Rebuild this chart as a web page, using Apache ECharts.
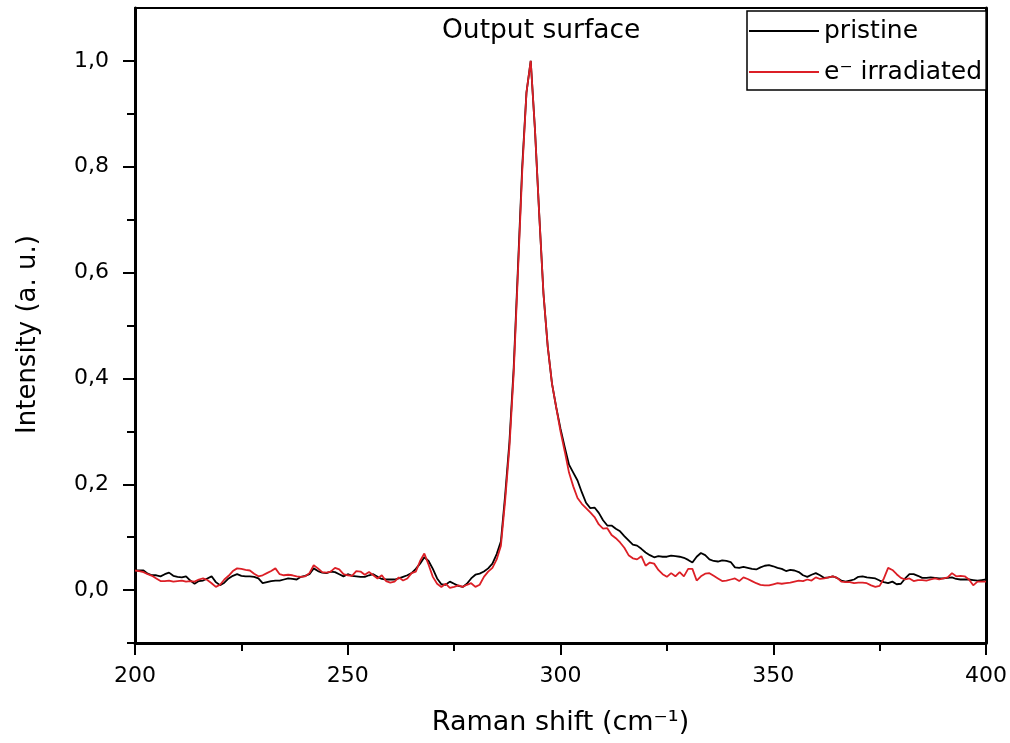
<!DOCTYPE html>
<html>
<head>
<meta charset="utf-8">
<script src="https://cdn.jsdelivr.net/npm/echarts@6/dist/echarts.min.js"></script>
<style>
html,body{margin:0;padding:0;background:#fff;}
#chart{width:1010px;height:743px;}
</style>
</head>
<body>
<div id="chart"></div>
<script>
// Raman shift sampling (cm^-1), 1 cm^-1 steps from 200 to 400
const ramanShift = [];
for (let x = 200; x <= 400; x++) ramanShift.push(x);

// pristine (black)
const pristine = [
0.037,0.037,0.037,0.031,0.028,0.028,0.026,0.030,0.033,0.027,
0.025,0.024,0.026,0.018,0.012,0.017,0.018,0.022,0.026,0.015,
0.009,0.014,0.022,0.027,0.030,0.027,0.026,0.026,0.025,0.022,
0.013,0.015,0.017,0.018,0.018,0.020,0.022,0.021,0.020,0.025,
0.027,0.030,0.041,0.036,0.033,0.032,0.035,0.034,0.030,0.026,
0.030,0.027,0.026,0.025,0.025,0.028,0.030,0.025,0.021,0.020,
0.020,0.020,0.022,0.025,0.028,0.032,0.040,0.050,0.062,0.055,
0.040,0.022,0.011,0.010,0.016,0.012,0.008,0.006,0.012,0.022,
0.029,0.031,0.035,0.041,0.050,0.068,0.092,0.18,0.28,0.42,
0.61,0.80,0.94,1.0,0.87,0.71,0.56,0.46,0.39,0.345,
0.305,0.270,0.237,0.222,0.207,0.185,0.165,0.155,0.156,0.146,
0.132,0.122,0.122,0.116,0.111,0.102,0.094,0.086,0.084,0.078,
0.071,0.066,0.062,0.064,0.063,0.063,0.065,0.064,0.063,0.061,
0.057,0.052,0.063,0.070,0.066,0.058,0.055,0.054,0.056,0.055,
0.053,0.043,0.042,0.044,0.042,0.040,0.039,0.043,0.046,0.047,
0.045,0.042,0.040,0.036,0.038,0.037,0.034,0.028,0.025,0.029,
0.032,0.028,0.023,0.024,0.026,0.023,0.018,0.016,0.018,0.020,
0.025,0.026,0.024,0.023,0.022,0.018,0.015,0.013,0.016,0.011,
0.012,0.022,0.030,0.030,0.027,0.023,0.023,0.024,0.023,0.022,
0.022,0.023,0.024,0.021,0.020,0.020,0.020,0.019,0.018,0.019,
0.020
];

// e- irradiated (red)
const irradiated = [
0.037,0.036,0.034,0.030,0.027,0.022,0.017,0.017,0.018,0.016,
0.017,0.018,0.016,0.017,0.016,0.020,0.022,0.019,0.013,0.006,
0.010,0.020,0.027,0.036,0.041,0.040,0.038,0.037,0.031,0.026,
0.028,0.032,0.036,0.041,0.030,0.028,0.029,0.028,0.026,0.025,
0.026,0.032,0.047,0.041,0.034,0.033,0.035,0.042,0.039,0.030,
0.028,0.027,0.036,0.035,0.029,0.034,0.028,0.022,0.028,0.017,
0.014,0.016,0.024,0.018,0.022,0.032,0.035,0.055,0.069,0.048,
0.025,0.012,0.006,0.012,0.004,0.006,0.009,0.006,0.010,0.013,
0.006,0.010,0.025,0.035,0.042,0.058,0.084,0.17,0.27,0.41,
0.60,0.79,0.94,1.0,0.87,0.71,0.56,0.46,0.39,0.345,
0.300,0.262,0.222,0.196,0.174,0.163,0.155,0.147,0.138,0.124,
0.116,0.117,0.104,0.098,0.090,0.080,0.066,0.060,0.058,0.064,
0.046,0.052,0.050,0.038,0.030,0.025,0.032,0.026,0.034,0.026,
0.040,0.040,0.018,0.026,0.031,0.032,0.027,0.022,0.017,0.018,
0.020,0.022,0.017,0.024,0.021,0.017,0.013,0.010,0.009,0.009,
0.011,0.013,0.012,0.013,0.014,0.016,0.018,0.017,0.020,0.018,
0.024,0.021,0.022,0.024,0.026,0.023,0.016,0.015,0.015,0.013,
0.014,0.014,0.013,0.009,0.006,0.008,0.022,0.042,0.038,0.030,
0.023,0.020,0.022,0.017,0.019,0.019,0.018,0.020,0.022,0.020,
0.022,0.024,0.032,0.026,0.027,0.026,0.020,0.009,0.016,0.016,
0.016
];

const xMajorTicks = [200, 250, 300, 350, 400];
const xMinorTicks = [225, 275, 325, 375];
const yMajorTicks = [0, 0.2, 0.4, 0.6, 0.8, 1.0];
const yMinorTicks = [-0.1, 0.1, 0.3, 0.5, 0.7, 0.9];

const seriesNames = ['pristine', 'e\u207B irradiated'];
const titleText = 'Output surface';
const xName = 'Raman shift (cm\u207B\u00B9)';
const yName = 'Intensity (a. u.)';

const FONT = 'DejaVu Sans';
const chart = echarts.init(document.getElementById('chart'), null, {renderer: 'canvas'});

const fmtY = v => (Math.round(v * 10) / 10).toFixed(1).replace('.', ',');

chart.setOption({
  animation: false,
  backgroundColor: '#ffffff',
  title: {
    text: titleText,
    left: 442, top: 16, padding: 0,
    textStyle: {fontFamily: FONT, fontSize: 26.5, fontWeight: 'normal', color: '#000', lineHeight: 30}
  },
  legend: {
    show: true,
    orient: 'vertical',
    left: 747, top: 11,
    padding: [6, 4, 4, 2],
    borderColor: '#000', borderWidth: 1.5,
    backgroundColor: '#fff',
    icon: 'rect',
    itemWidth: 70, itemHeight: 1.8, itemGap: 13,
    textStyle: {fontFamily: FONT, fontSize: 25, color: '#000', lineHeight: 28},
    data: seriesNames
  },
  grid: {left: 135, right: 24, top: 8, bottom: 100, outerBoundsMode: 'none', containLabel: false},
  xAxis: [
    {
      type: 'value', min: 200, max: 400, interval: 50, position: 'bottom',
      name: xName, nameLocation: 'middle', nameGap: 66,
      nameTextStyle: {fontFamily: FONT, fontSize: 27, color: '#000'},
      axisLine: {show: true, onZero: false, lineStyle: {color: '#000', width: 3}},
      axisTick: {show: true, customValues: xMajorTicks, length: 12, lineStyle: {color: '#000', width: 2}},
      axisLabel: {customValues: xMajorTicks, margin: 22, fontFamily: FONT, fontSize: 22, color: '#000'},
      splitLine: {show: false}
    },
    {
      type: 'value', min: 200, max: 400, interval: 50, position: 'bottom',
      axisLine: {show: false, onZero: false},
      axisTick: {show: true, customValues: xMinorTicks, length: 8, lineStyle: {color: '#000', width: 2}},
      axisLabel: {show: false}, splitLine: {show: false}
    },
    {
      type: 'value', min: 200, max: 400, position: 'top',
      axisLine: {show: true, onZero: false, lineStyle: {color: '#000', width: 2}},
      axisTick: {show: false}, axisLabel: {show: false}, splitLine: {show: false}
    }
  ],
  yAxis: [
    {
      type: 'value', min: -0.1, max: 1.1, interval: 0.1, position: 'left',
      name: yName, nameLocation: 'middle', nameGap: 94, nameRotate: 90,
      nameTextStyle: {fontFamily: FONT, fontSize: 26, color: '#000', padding: [0, 18, 0, 0]},
      axisLine: {show: true, onZero: false, lineStyle: {color: '#000', width: 3}},
      axisTick: {show: true, customValues: yMajorTicks, length: 12, lineStyle: {color: '#000', width: 2}},
      axisLabel: {customValues: yMajorTicks, formatter: fmtY, margin: 26, fontFamily: FONT, fontSize: 22, color: '#000'},
      splitLine: {show: false}
    },
    {
      type: 'value', min: -0.1, max: 1.1, interval: 0.1, position: 'left',
      axisLine: {show: false, onZero: false},
      axisTick: {show: true, customValues: yMinorTicks, length: 8, lineStyle: {color: '#000', width: 2}},
      axisLabel: {show: false}, splitLine: {show: false}
    },
    {
      type: 'value', min: -0.1, max: 1.1, position: 'right',
      axisLine: {show: true, onZero: false, lineStyle: {color: '#000', width: 3}},
      axisTick: {show: false}, axisLabel: {show: false}, splitLine: {show: false}
    }
  ],
  series: [
    {
      name: seriesNames[0], type: 'line', xAxisIndex: 0, yAxisIndex: 0,
      symbol: 'none', showSymbol: false, smooth: false,
      lineStyle: {color: '#000000', width: 1.8},
      itemStyle: {color: '#000000'},
      data: ramanShift.map((x, i) => [x, pristine[i]])
    },
    {
      name: seriesNames[1], type: 'line', xAxisIndex: 0, yAxisIndex: 0,
      symbol: 'none', showSymbol: false, smooth: false,
      lineStyle: {color: '#dc1f26', width: 1.8},
      itemStyle: {color: '#dc1f26'},
      data: ramanShift.map((x, i) => [x, irradiated[i]])
    }
  ]
});
</script>
</body>
</html>
